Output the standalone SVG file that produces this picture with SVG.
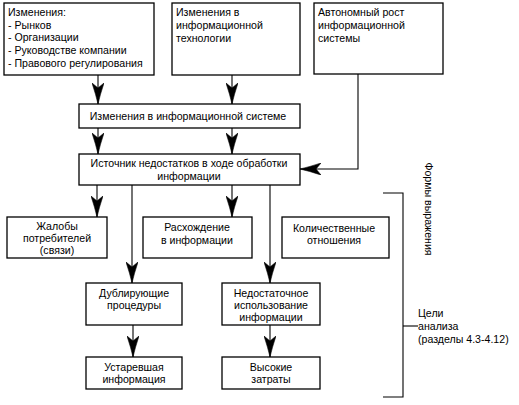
<svg xmlns="http://www.w3.org/2000/svg" width="519" height="405" viewBox="0 0 519 405">
<style>
.box{fill:#fff;stroke:#000;stroke-width:1.3}
.ln{fill:none;stroke:#000;stroke-width:1.1}
.arr{marker-end:url(#ah)}
text{font-family:"Liberation Sans",Arial,sans-serif;font-size:10.6px;fill:#000}
.c{text-anchor:middle}
</style>
<defs>
<marker id="ah" markerUnits="userSpaceOnUse" viewBox="0 0 21 12" refX="21" refY="6" markerWidth="21" markerHeight="12" orient="auto">
<path d="M0,0 Q12,4 21,6 Q12,8 0,12 L5,6 Z" fill="#000" stroke="#000" stroke-width="0.6" stroke-linejoin="round"/>
</marker>
</defs>
<rect width="519" height="405" fill="#fff"/>
<g id="connectors">
<line class="ln arr" x1="98" y1="75" x2="98" y2="104"/>
<line class="ln arr" x1="232" y1="75" x2="232" y2="104"/>
<line class="ln arr" x1="98" y1="128" x2="98" y2="154"/>
<line class="ln arr" x1="232" y1="128" x2="232" y2="154"/>
<polyline class="ln arr" points="358,74 358,169 300,169"/>
<line class="ln arr" x1="97" y1="185" x2="97" y2="217"/>
<line class="ln arr" x1="232" y1="185" x2="232" y2="217"/>
<line class="ln arr" x1="132" y1="185" x2="132" y2="283"/>
<line class="ln arr" x1="270" y1="185" x2="270" y2="283"/>
<line class="ln arr" x1="133" y1="325" x2="133" y2="357"/>
<line class="ln arr" x1="270" y1="325" x2="270" y2="357"/>
</g>
<g id="n1"><rect class="box" x="4" y="3" width="150" height="72"/>
<text x="8" y="16">Изменения:</text>
<text x="8" y="29">- Рынков</text>
<text x="8" y="41">- Организации</text>
<text x="8" y="54">- Руководстве компании</text>
<text x="8" y="67">- Правового регулирования</text></g>
<g id="n2"><rect class="box" x="172" y="3" width="128" height="72"/>
<text x="176" y="16">Изменения в</text>
<text x="176" y="29">информационной</text>
<text x="176" y="42">технологии</text></g>
<g id="n3"><rect class="box" x="314" y="3" width="129" height="71"/>
<text x="318" y="16">Автономный рост</text>
<text x="318" y="29">информационной</text>
<text x="318" y="42">системы</text></g>
<g id="n4"><rect class="box" x="79" y="104" width="221" height="24"/>
<text class="c" x="188" y="120">Изменения в информационной системе</text></g>
<g id="n5"><rect class="box" x="79" y="154" width="221" height="31"/>
<text class="c" x="189" y="167">Источник недостатков в ходе обработки</text>
<text class="c" x="189" y="180">информации</text></g>
<g id="n6"><rect class="box" x="7" y="217" width="100" height="41"/>
<text class="c" x="57" y="230">Жалобы</text>
<text class="c" x="57" y="242">потребителей</text>
<text class="c" x="57" y="254">(связи)</text></g>
<g id="n7"><rect class="box" x="143" y="217" width="109" height="41"/>
<text class="c" x="197" y="231">Расхождение</text>
<text class="c" x="197" y="244">в информации</text></g>
<g id="n8"><rect class="box" x="282" y="217" width="107" height="41"/>
<text class="c" x="334" y="232">Количественные</text>
<text class="c" x="334" y="244">отношения</text></g>
<g id="n9"><rect class="box" x="86" y="283" width="96" height="42"/>
<text class="c" x="134" y="297">Дублирующие</text>
<text class="c" x="134" y="309">процедуры</text></g>
<g id="n10"><rect class="box" x="222" y="283" width="98" height="42"/>
<text class="c" x="271" y="297">Недостаточное</text>
<text class="c" x="271" y="309">использование</text>
<text class="c" x="271" y="321">информации</text></g>
<g id="n11"><rect class="box" x="86" y="357" width="96" height="32"/>
<text class="c" x="134" y="371">Устаревшая</text>
<text class="c" x="134" y="383">информация</text></g>
<g id="n12"><rect class="box" x="222" y="357" width="98" height="32"/>
<text class="c" x="271" y="371">Высокие</text>
<text class="c" x="271" y="383">затраты</text></g>
<g id="bracket">
<polyline class="ln" points="383,193 403,193 403,397 383,397"/>
<line class="ln" x1="403" y1="326" x2="418" y2="326"/>
<text class="c" transform="translate(425,209) rotate(90)">Формы выражения</text>
<text x="418" y="317">Цели</text>
<text x="418" y="330">анализа</text>
<text x="418" y="343">(разделы 4.3-4.12)</text>
</g>
</svg>
